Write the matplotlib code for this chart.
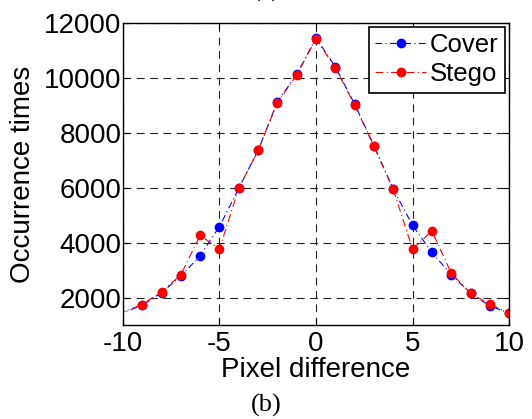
import numpy as np
import matplotlib
matplotlib.use('Agg')
import matplotlib.pyplot as plt

# diferencia de pixel (el primer punto queda fuera del eje)
x = [-11, -9, -8, -7, -6, -5, -4, -3, -2, -1, 0, 1, 2, 3, 4, 5, 6, 7, 8, 9, 10]
cover = [1200, 1720, 2180, 2780, 3530, 4590, 5980, 7360, 9140, 10130, 11460,
         10410, 9050, 7540, 5950, 4630, 3650, 2840, 2160, 1700, 1440]
stego = [1200, 1750, 2220, 2830, 4270, 3770, 5980, 7360, 9100, 10110, 11420,
         10370, 9010, 7510, 5940, 3770, 4430, 2900, 2160, 1760, 1440]

plt.rcParams['font.family'] = ['Liberation Sans', 'DejaVu Sans']
plt.rcParams['axes.unicode_minus'] = False

fig = plt.figure(figsize=(5.32, 4.19), dpi=100)
ax = fig.add_axes([0.231, 0.224, 0.726, 0.721])

ax.plot(x, cover, color='blue', lw=0.8, marker='o', ms=6, dashes=[6, 3, 1, 3], label='Cover')
ax.plot(x, stego, color='red', lw=0.8, marker='o', ms=6, dashes=[7, 3, 1, 3], label='Stego')

ax.set_xlim(-10, 10)
ax.set_ylim(1000, 12000)
ax.set_xticks([-10, -5, 0, 5, 10])
ax.set_yticks([2000, 4000, 6000, 8000, 10000, 12000])
ax.grid(True, color='#222222', linestyle=(0, (7, 5)), lw=0.8)
ax.tick_params(direction='in', labelsize=20, length=4, top=True, right=True)
ax.tick_params(axis='y', pad=1)
ax.tick_params(axis='x', pad=4)
for s in ax.spines.values():
    s.set_linewidth(1.0)

ax.set_xlabel('Pixel difference', fontsize=20, labelpad=0)
ax.set_ylabel('Occurrence times', fontsize=20, labelpad=6)

leg = ax.legend(loc='upper right', fontsize=18.5, fancybox=False, framealpha=1,
                edgecolor='black', handlelength=2.0, borderaxespad=0.15,
                handletextpad=0.15, borderpad=0.25, labelspacing=0.2)
leg.get_frame().set_linewidth(1.2)

fig.text(0.5, 0.005, '(b)', family='Liberation Serif', fontsize=19, ha='center', va='bottom')
fig.text(0.5, 1.022, '(a)', family='Liberation Serif', fontsize=19, ha='center', va='center')

fig.savefig('out.png', dpi=100)
